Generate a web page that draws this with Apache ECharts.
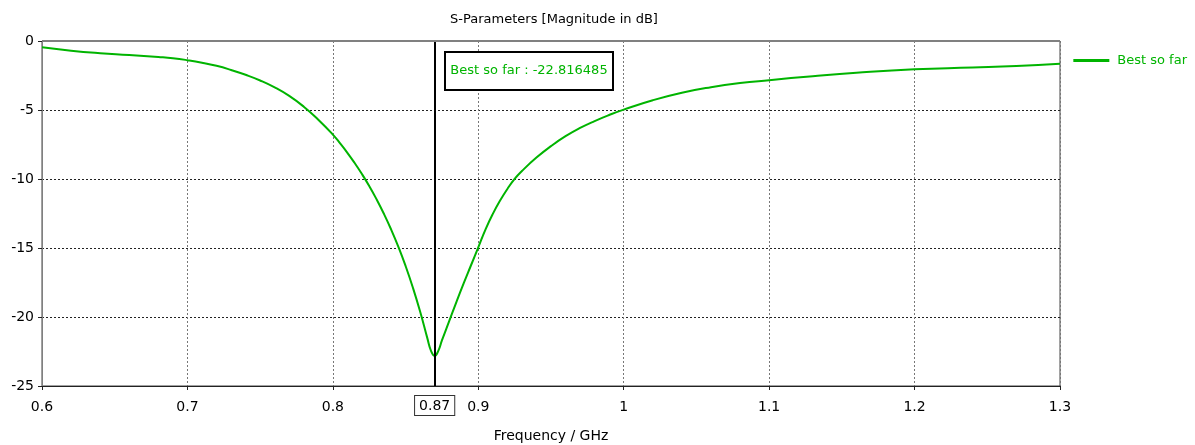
<!DOCTYPE html>
<html>
<head>
<meta charset="utf-8">
<script src="https://cdn.jsdelivr.net/npm/echarts@6/dist/echarts.min.js"></script>
<style>
html,body{margin:0;padding:0;background:#fff;}
#c{width:1195px;height:445px;}
</style>
</head>
<body>
<div id="c"></div>
<script>
const freq = [0.60,0.62,0.64,0.66,0.68,0.69,0.70,0.71,0.72,0.73,0.74,0.75,0.76,0.77,0.78,0.79,0.80,0.805,0.81,0.815,0.82,0.825,0.83,0.835,0.84,0.845,0.85,0.855,0.86,0.865,0.8675,0.87,0.8725,0.875,0.88,0.885,0.89,0.895,0.90,0.905,0.91,0.915,0.92,0.925,0.93,0.94,0.95,0.96,0.97,0.98,0.99,1.00,1.02,1.04,1.06,1.08,1.10,1.13,1.16,1.20,1.24,1.27,1.30];
const mag  = [-0.45,-0.70,-0.88,-1.01,-1.16,-1.25,-1.39,-1.57,-1.80,-2.10,-2.45,-2.86,-3.36,-3.98,-4.76,-5.70,-6.78,-7.42,-8.10,-8.84,-9.64,-10.51,-11.46,-12.50,-13.64,-14.90,-16.30,-17.86,-19.60,-21.55,-22.45,-22.82,-22.45,-21.70,-20.30,-18.90,-17.55,-16.25,-14.95,-13.65,-12.53,-11.56,-10.72,-9.99,-9.42,-8.45,-7.62,-6.90,-6.30,-5.80,-5.36,-4.97,-4.29,-3.75,-3.35,-3.05,-2.84,-2.55,-2.30,-2.05,-1.92,-1.81,-1.64];
const xTicks = {min:0.6, max:1.3, interval:0.1};
const yTicks = {min:-25, max:0, interval:5};
const markerX = 0.87;
const bestLabel = 'Best so far : -22.816485';
const seriesName = 'Best so far';

const green = '#00b400';
const font = 'DejaVu Sans';
const chart = echarts.init(document.getElementById('c'));
chart.setOption({
  animation:false,
  backgroundColor:'#fff',
  title:{text:'S-Parameters [Magnitude in dB]', left:549, top:8, textAlign:'center',
    textStyle:{fontFamily:font, fontSize:13, fontWeight:'normal', color:'#000'}},
  legend:{right:3, top:49, orient:'vertical', itemWidth:36, itemHeight:3, itemGap:8,
    textStyle:{fontFamily:font, fontSize:13, color:green, padding:[0,0,0,3]},
    data:[{name:seriesName, icon:'rect', itemStyle:{color:green}}]},
  grid:{left:42, right:135, top:41, bottom:59, outerBoundsMode:'none', containLabel:false,
    show:true, borderColor:'#444', borderWidth:1},
  xAxis:{type:'value', min:xTicks.min, max:xTicks.max, interval:xTicks.interval,
    name:'Frequency / GHz', nameLocation:'middle', nameGap:43,
    nameTextStyle:{fontFamily:font, fontSize:14, color:'#000'},
    axisLine:{show:true, onZero:false, lineStyle:{color:'#222', width:1}},
    axisTick:{show:true, length:4, lineStyle:{color:'#222'}},
    axisLabel:{fontFamily:font, fontSize:14, color:'#000', margin:14},
    splitLine:{show:true, lineStyle:{color:'#777', type:[2,2], width:1}}},
  yAxis:{type:'value', min:yTicks.min, max:yTicks.max, interval:yTicks.interval,
    axisLine:{show:true, lineStyle:{color:'#808080', width:1}},
    axisTick:{show:true, length:4, lineStyle:{color:'#222'}},
    axisLabel:{fontFamily:font, fontSize:14, color:'#000', margin:8},
    splitLine:{show:true, lineStyle:{color:'#222', type:[2,2], width:1}}},
  graphic:[
    {type:'line', shape:{x1:42, y1:41, x2:1060, y2:41}, style:{stroke:'#808080', lineWidth:2}, z:10},
    {type:'rect', shape:{x:445, y:52, width:168, height:38}, style:{fill:'#fff', stroke:'#000', lineWidth:2}, z:20},
    {type:'text', x:529, y:71, style:{text:bestLabel, fill:green, fontFamily:font, fontSize:13, align:'center', verticalAlign:'middle'}, z:21}
  ],
  series:[{
    name:seriesName, type:'line', smooth:0.5, symbol:'none',
    data:freq.map((f,i)=>[f,mag[i]]),
    lineStyle:{color:green, width:2}, itemStyle:{color:green},
    markLine:{silent:true, symbol:'none',
      lineStyle:{color:'#000', width:2, type:'solid'},
      label:{show:true, position:'start', formatter:'0.87', distance:10,
        fontFamily:font, fontSize:14, color:'#000',
        backgroundColor:'#fff', borderColor:'#333', borderWidth:1, padding:[3,4,2,4]},
      data:[{xAxis:markerX}]}
  }]
});
</script>
</body>
</html>
